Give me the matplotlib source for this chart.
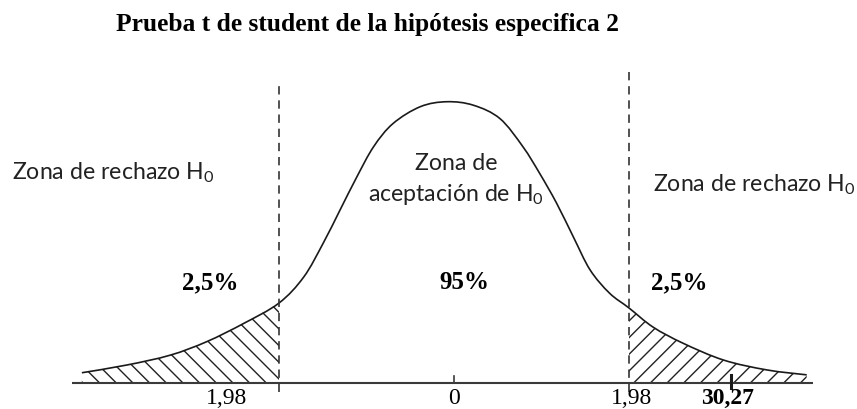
import numpy as np
import matplotlib
matplotlib.use("Agg")
import matplotlib.pyplot as plt
from matplotlib.path import Path
from matplotlib.patches import PathPatch

# curve (t value, relative height)
curve_t = [-4.21, -3.70, -3.21, -2.80, -2.38, -1.98, -1.70, -1.48, -1.29, -1.10,
           -0.91, -0.69, -0.38, -0.08, 0.22, 0.52, 0.78, 0.97, 1.16, 1.35,
           1.54, 1.76, 1.98, 2.25, 2.59, 3.05, 3.54, 3.99]
curve_h = [0.015, 0.026, 0.040, 0.059, 0.085, 0.114, 0.151, 0.199, 0.246, 0.293,
           0.336, 0.369, 0.393, 0.400, 0.395, 0.376, 0.336, 0.298, 0.256, 0.208,
           0.161, 0.128, 0.107, 0.080, 0.057, 0.033, 0.019, 0.012]

t_crit = 1.98
tick_labels = ["1,98", "0", "1,98", "30,27"]
pct_labels = ["2,5%", "95%", "2,5%"]
title = "Prueba t de student de la hipótesis especifica 2"
zone_reject = "Zona de rechazo H$_0$"
zone_accept = ["Zona de", "aceptación de H$_0$"]

plt.rcParams["hatch.linewidth"] = 1.0
plt.rcParams["mathtext.fontset"] = "custom"
plt.rcParams["mathtext.rm"] = "Lato"
plt.rcParams["mathtext.it"] = "Lato:italic"
plt.rcParams["mathtext.default"] = "regular"
serif = "Liberation Serif"
sans = ["Lato", "DejaVu Sans"]


def smooth_verts(xs, ys):
    # catmull-rom through the read points, drawn as bezier segments
    pts = np.column_stack([xs, ys])
    n = len(pts)
    verts = [pts[0]]
    codes = [Path.MOVETO]
    for i in range(n - 1):
        p0 = pts[max(i - 1, 0)]
        p1 = pts[i]
        p2 = pts[i + 1]
        p3 = pts[min(i + 2, n - 1)]
        verts += [p1 + (p2 - p0) / 6, p2 - (p3 - p1) / 6, p2]
        codes += [Path.CURVE4] * 3
    return verts, codes


t = np.array(curve_t)
h = np.array(curve_h)

fig = plt.figure(figsize=(8.57, 4.09), dpi=100)
ax = fig.add_axes([0, 0, 1, 1])
ax.set_xlim(-5.136, 4.559)
ax.set_ylim(-0.0365, 0.5445)
ax.axis("off")

# hatched tails
il = curve_t.index(-t_crit)
ir = curve_t.index(t_crit)
v, c = smooth_verts(t[:il + 1], h[:il + 1])
v += [(-t_crit, 0), (t[0], 0), (0, 0)]
c += [Path.LINETO, Path.LINETO, Path.CLOSEPOLY]
ax.add_patch(PathPatch(Path(v, c), facecolor="none", edgecolor="#222222",
                       lw=0, hatch="\\\\"))
v, c = smooth_verts(t[ir:], h[ir:])
v += [(t[-1], 0), (t_crit, 0), (0, 0)]
c += [Path.LINETO, Path.LINETO, Path.CLOSEPOLY]
ax.add_patch(PathPatch(Path(v, c), facecolor="none", edgecolor="#222222",
                       lw=0, hatch="//"))

# the curve itself
v, c = smooth_verts(t, h)
ax.add_patch(PathPatch(Path(v, c), fill=False, edgecolor="#1a1a1a", lw=1.2))

# baseline and ticks
ax.plot([-4.32, 4.06], [0, 0], color="#3a3a3a", lw=1.5, solid_capstyle="butt")
ax.plot([0, 0], [0, 0.0104], color="#3a3a3a", lw=1.2)
ax.plot([3.13, 3.13], [-0.0067, 0.0118], color="#1a1a1a", lw=2.2)

# critical value lines
ax.plot([-t_crit, -t_crit], [-0.0128, 0.428], color="#333333", lw=1.2,
        dashes=(5, 3.5))
ax.plot([t_crit, t_crit], [-0.0128, 0.445], color="#333333", lw=1.2,
        dashes=(5, 3.5))

# tick labels under the axis
label_x = [-2.57, 0.0, 2.01, 3.10]
for lab, x in zip(tick_labels, label_x):
    ax.text(x, -0.0215, lab, ha="center", va="center", fontsize=17,
            family=serif, fontweight="bold" if lab == "30,27" else "normal")

# percentages
pct_x = [-2.76, 0.12, 2.55]
for lab, x in zip(pct_labels, pct_x):
    ax.text(x, 0.1425, lab, ha="center", va="center", fontsize=18,
            family=serif, fontweight="bold")

# zone labels
ax.text(-5.0, 0.2988, zone_reject, ha="left", va="center", fontsize=16.7,
        family=sans, color="#222222")
ax.text(2.25, 0.2817, zone_reject, ha="left", va="center", fontsize=16.7,
        family=sans, color="#222222")
ax.text(0.02, 0.3129, zone_accept[0], ha="center", va="center", fontsize=16.7,
        family=sans, color="#222222")
ax.text(0.02, 0.2676, zone_accept[1], ha="center", va="center", fontsize=16.7,
        family=sans, color="#222222")

fig.text(368 / 857, 1 - 25 / 409, title, ha="center", va="center",
         fontsize=18.4, family=serif, fontweight="bold")

fig.savefig("out.png", dpi=100)
